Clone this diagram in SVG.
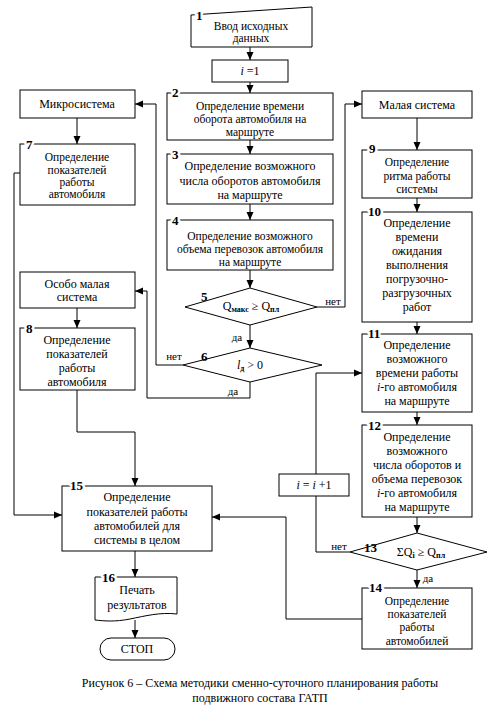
<svg xmlns="http://www.w3.org/2000/svg" width="491" height="715" viewBox="0 0 491 715">
<style>
  .t { font-family: 'Liberation Serif', serif; font-size: 12px; text-anchor: middle; }
  .s { font-family: 'Liberation Serif', serif; font-size: 11.5px; text-anchor: middle; }
  .lbl { font-family: 'Liberation Serif', serif; font-size: 13px; font-weight: bold; stroke: #fff; stroke-width: 5px; paint-order: stroke; stroke-linejoin: round; }
  .lb2 { font-family: 'Liberation Serif', serif; font-size: 13px; font-weight: bold; }
  .yn { font-family: 'Liberation Serif', serif; font-size: 11px; text-anchor: middle; }
  .cap { font-family: 'Liberation Serif', serif; font-size: 12px; text-anchor: middle; }
  .box { fill: #fff; stroke: #000; stroke-width: 1; }
  .ln { fill: none; stroke: #000; stroke-width: 1; }
  .ar { fill: none; stroke: #000; stroke-width: 1; marker-end: url(#ah); }
  .sub { font-size: 8px; font-weight: bold; }
</style>
<defs>
  <marker id="ah" markerWidth="8" markerHeight="8" refX="8" refY="4" orient="auto" markerUnits="userSpaceOnUse">
    <path d="M0,0.5 L8,4 L0,7.5 Z" fill="#000"/>
  </marker>
</defs>
<rect width="491" height="715" fill="#fff"/>

<g id="connectors">
  <line class="ar" x1="250" y1="47" x2="250" y2="60"/>
  <line class="ar" x1="250" y1="82" x2="250" y2="93"/>
  <line class="ar" x1="250" y1="140" x2="250" y2="154"/>
  <line class="ar" x1="250" y1="204" x2="250" y2="220"/>
  <line class="ar" x1="250" y1="270" x2="250" y2="288"/>
  <line class="ar" x1="250" y1="325" x2="250" y2="348"/>
  <polyline class="ar" points="317,307 345,307 345,104 362,104"/>
  <polyline class="ar" points="183,365 156,365 156,104 135,104"/>
  <polyline class="ar" points="250,382 250,398 147,398 147,291 135,291"/>
  <line class="ar" x1="77" y1="118" x2="77" y2="144"/>
  <line class="ar" x1="77" y1="308" x2="77" y2="328"/>
  <polyline class="ar" points="20,173 14,173 14,515 62,515"/>
  <polyline class="ar" points="77,390 77,432 135,432 135,486"/>
  <line class="ar" x1="417" y1="118" x2="417" y2="150"/>
  <line class="ar" x1="417" y1="198" x2="417" y2="212"/>
  <line class="ar" x1="417" y1="322" x2="417" y2="334"/>
  <line class="ar" x1="417" y1="412" x2="417" y2="425"/>
  <line class="ar" x1="417" y1="517" x2="417" y2="533"/>
  <line class="ar" x1="417" y1="570" x2="417" y2="588"/>
  <polyline class="ln" points="350,552 316,552 316,496"/>
  <polyline class="ar" points="316,474 316,373 362,373"/>
  <polyline class="ar" points="362,619 286,619 286,517 212,517"/>
  <line class="ar" x1="135" y1="551" x2="135" y2="577"/>
  <line class="ar" x1="135" y1="620" x2="135" y2="638"/>
</g>

<g id="n1">
  <polygon class="box" points="191,15 312,7 312,47 191,47"/>
  <text class="lbl" x="196" y="20">1</text>
  <text class="s" x="251" y="30">Ввод исходных</text>
  <text class="s" x="251" y="42">данных</text>
</g>

<g id="ni1">
  <rect class="box" x="212" y="60" width="76" height="22"/>
  <text class="t" x="250" y="75"><tspan font-style="italic">i</tspan> =1</text>
</g>

<g id="n2">
  <rect class="box" x="167" y="93" width="166" height="47"/>
  <text class="lbl" x="172" y="97">2</text>
  <text class="s" x="250" y="110">Определение времени</text>
  <text class="s" x="250" y="123">оборота автомобиля на</text>
  <text class="s" x="250" y="136">маршруте</text>
</g>

<g id="n3">
  <rect class="box" x="167" y="154" width="166" height="50"/>
  <text class="lbl" x="172" y="159">3</text>
  <text class="t" x="250" y="170">Определение возможного</text>
  <text class="t" x="250" y="185">числа оборотов автомобиля</text>
  <text class="t" x="250" y="199">на маршруте</text>
</g>

<g id="n4">
  <rect class="box" x="167" y="220" width="166" height="50"/>
  <text class="lbl" x="172" y="225">4</text>
  <text class="s" x="250" y="240">Определение возможного</text>
  <text class="s" x="250" y="253">объема перевозок автомобиля</text>
  <text class="s" x="250" y="266">на маршруте</text>
</g>

<g id="n5">
  <polygon class="box" points="250,288 317,307 250,325 185,307"/>
  <text class="lb2" x="201" y="301">5</text>
  <text class="t" x="251" y="310">Q<tspan class="sub" dy="2">макс</tspan><tspan dy="-2"> ≥ Q</tspan><tspan class="sub" dy="2">пл</tspan></text>
  <text class="yn" x="333" y="305">нет</text>
  <text class="yn" x="237" y="341">да</text>
</g>

<g id="n6">
  <polygon class="box" points="250,348 322,365 250,382 183,365"/>
  <text class="lb2" x="201" y="361">6</text>
  <text class="t" x="250" y="369"><tspan font-style="italic">l</tspan><tspan class="sub" dy="2">д</tspan><tspan dy="-2"> &gt; 0</tspan></text>
  <text class="yn" x="174" y="360">нет</text>
  <text class="yn" x="233" y="395">да</text>
</g>

<g id="nmicro">
  <rect class="box" x="20" y="90" width="115" height="28"/>
  <text class="t" x="77" y="108">Микросистема</text>
</g>

<g id="n7">
  <rect class="box" x="20" y="144" width="115" height="61"/>
  <text class="lbl" x="26" y="149">7</text>
  <text class="s" x="77" y="161">Определение</text>
  <text class="s" x="77" y="174">показателей</text>
  <text class="s" x="77" y="186">работы</text>
  <text class="s" x="77" y="198">автомобиля</text>
</g>

<g id="nosobo">
  <rect class="box" x="20" y="272" width="115" height="36"/>
  <text class="t" x="77" y="288">Особо малая</text>
  <text class="t" x="77" y="301">система</text>
</g>

<g id="n8">
  <rect class="box" x="20" y="328" width="115" height="62"/>
  <text class="lbl" x="26" y="333">8</text>
  <text class="t" x="77" y="344">Определение</text>
  <text class="t" x="77" y="358">показателей</text>
  <text class="t" x="77" y="372">работы</text>
  <text class="t" x="77" y="386">автомобиля</text>
</g>

<g id="nmalaya">
  <rect class="box" x="362" y="91" width="110" height="27"/>
  <text class="t" x="417" y="109">Малая система</text>
</g>

<g id="n9">
  <rect class="box" x="362" y="150" width="110" height="48"/>
  <text class="lbl" x="369" y="153">9</text>
  <text class="s" x="417" y="166">Определение</text>
  <text class="s" x="417" y="180">ритма работы</text>
  <text class="s" x="417" y="193">системы</text>
</g>

<g id="n10">
  <rect class="box" x="362" y="212" width="110" height="110"/>
  <text class="lbl" x="368" y="216">10</text>
  <text class="t" x="417" y="227">Определение</text>
  <text class="t" x="417" y="241">времени</text>
  <text class="t" x="417" y="255">ожидания</text>
  <text class="t" x="417" y="269">выполнения</text>
  <text class="t" x="417" y="283">погрузочно-</text>
  <text class="t" x="417" y="297">разгрузочных</text>
  <text class="t" x="417" y="311">работ</text>
</g>

<g id="n11">
  <rect class="box" x="362" y="334" width="110" height="78"/>
  <text class="lbl" x="368" y="338">11</text>
  <text class="t" x="417" y="349">Определение</text>
  <text class="t" x="417" y="363">возможного</text>
  <text class="t" x="417" y="377">времени работы</text>
  <text class="t" x="417" y="391"><tspan font-style="italic">i</tspan>-го автомобиля</text>
  <text class="t" x="417" y="405">на маршруте</text>
</g>

<g id="n12">
  <rect class="box" x="362" y="425" width="110" height="92"/>
  <text class="lbl" x="368" y="430">12</text>
  <text class="t" x="417" y="441">Определение</text>
  <text class="t" x="417" y="455">возможного</text>
  <text class="t" x="417" y="469">числа оборотов и</text>
  <text class="t" x="417" y="483">объема перевозок</text>
  <text class="t" x="417" y="497"><tspan font-style="italic">i</tspan>-го автомобиля</text>
  <text class="t" x="417" y="511">на маршруте</text>
</g>

<g id="ninc">
  <rect class="box" x="279" y="474" width="70" height="22"/>
  <text class="t" x="314" y="489"><tspan font-style="italic">i</tspan> =  <tspan font-style="italic">i</tspan> +1</text>
</g>

<g id="n13">
  <polygon class="box" points="417,533 487,552 417,570 350,552"/>
  <text class="lb2" x="364" y="552">13</text>
  <text class="t" x="421" y="556">ΣQ<tspan class="sub" dy="2">i</tspan><tspan dy="-2"> ≥ Q</tspan><tspan class="sub" dy="2">пл</tspan></text>
  <text class="yn" x="339" y="550">нет</text>
  <text class="yn" x="428" y="582">да</text>
</g>

<g id="n14">
  <rect class="box" x="362" y="588" width="110" height="61"/>
  <text class="lbl" x="369" y="592">14</text>
  <text class="s" x="417" y="605">Определение</text>
  <text class="s" x="417" y="618">показателей</text>
  <text class="s" x="417" y="631">работы</text>
  <text class="s" x="417" y="645">автомобилей</text>
</g>

<g id="n15">
  <rect class="box" x="62" y="486" width="150" height="65"/>
  <text class="lbl" x="70" y="490">15</text>
  <text class="t" x="137" y="501">Определение</text>
  <text class="t" x="137" y="516">показателей работы</text>
  <text class="t" x="137" y="530">автомобилей для</text>
  <text class="t" x="137" y="544">системы в целом</text>
</g>

<g id="n16">
  <path class="box" d="M95,577 H177 V614 C160,612 145,616 130,619 C115,622 104,621 95,620 Z"/>
  <text class="lbl" x="102" y="582">16</text>
  <text class="t" x="137" y="594">Печать</text>
  <text class="t" x="137" y="609">результатов</text>
</g>

<g id="nstop">
  <rect class="box" x="100" y="638" width="75" height="22" rx="11" ry="11"/>
  <text class="t" x="137" y="653">СТОП</text>
</g>

<g id="caption">
  <text class="cap" x="260" y="687">Рисунок 6 – Схема методики сменно-суточного планирования работы</text>
  <text class="cap" x="260" y="702">подвижного состава ГАТП</text>
</g>
</svg>
